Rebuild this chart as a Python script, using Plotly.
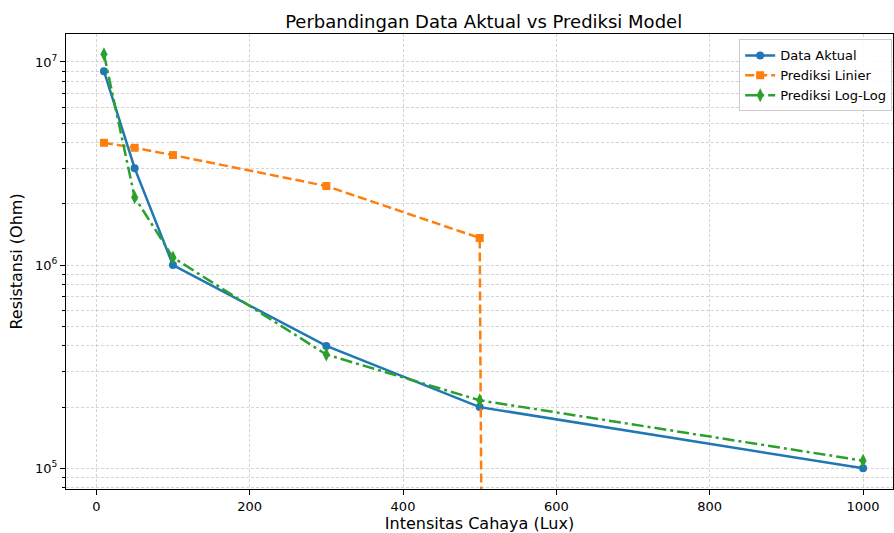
import plotly.graph_objects as go

# Data
intensitas = [10, 50, 100, 300, 500, 1000]
data_aktual = [9.0e6, 3.0e6, 1.0e6, 4.0e5, 2.0e5, 1.0e5]
# last linear prediction is non-positive (clipped on the log axis, as matplotlib does)
prediksi_linier = [4.0e6, 3.78e6, 3.48e6, 2.45e6, 1.36e6, 1e-300]
prediksi_loglog = [1.09e7, 2.16e6, 1.09e6, 3.63e5, 2.16e5, 1.09e5]

x_ticks = [0, 200, 400, 600, 800, 1000]
y_ticks = [1e5, 1e6, 1e7]
y_ticklabels = ["10<sup>5</sup>", "10<sup>6</sup>", "10<sup>7</sup>"]
y_minor = [m * 10 ** e for e in (4, 5, 6, 7) for m in range(2, 10)]

FONT = "DejaVu Sans"
grid_col = "rgba(195,195,195,0.7)"

fig = go.Figure()
fig.add_trace(go.Scatter(
    x=intensitas, y=data_aktual, mode="lines+markers", name="Data Aktual",
    line=dict(color="#1f77b4", width=2.5),
    marker=dict(symbol="circle", size=8, color="#1f77b4"),
))
fig.add_trace(go.Scatter(
    x=intensitas, y=prediksi_linier, mode="lines+markers", name="Prediksi Linier",
    line=dict(color="#ff7f0e", width=2.5, dash="9px,4px"),
    marker=dict(symbol="square", size=8, color="#ff7f0e"),
))
fig.add_trace(go.Scatter(
    x=intensitas, y=prediksi_loglog, mode="lines+markers", name="Prediksi Log-Log",
    line=dict(color="#2ca02c", width=2.5, dash="12px,4px,3px,4px"),
    marker=dict(symbol="diamond-tall", size=10, color="#2ca02c"),
))

axis_common = dict(
    showline=True, linecolor="black", linewidth=1, mirror=True,
    ticks="outside", ticklen=5, tickwidth=1, tickcolor="black",
    showgrid=True, gridcolor=grid_col, gridwidth=0.5, griddash="3px,2px",
    zeroline=False, tickfont=dict(family=FONT, size=13, color="black"),
)

fig.update_xaxes(
    range=[-39.5, 1039], tickvals=x_ticks,
    title=dict(text="Intensitas Cahaya (Lux)", font=dict(family=FONT, size=16, color="black"), standoff=8),
    **axis_common,
)
fig.update_yaxes(
    type="log", range=[4.898, 7.1375], tickvals=y_ticks, ticktext=y_ticklabels,
    title=dict(text="Resistansi (Ohm)", font=dict(family=FONT, size=16, color="black"), standoff=8),
    minor=dict(tickmode="array", tickvals=y_minor, ticks="outside", ticklen=3, tickcolor="black",
               showgrid=True, gridcolor=grid_col, gridwidth=0.5, griddash="3px,2px"),
    **axis_common,
)

fig.update_layout(
    width=894, height=533,
    margin=dict(l=66, r=0, t=34, b=42),
    paper_bgcolor="white", plot_bgcolor="white",
    title=dict(text="Perbandingan Data Aktual vs Prediksi Model", xref="container", x=0.541,
               xanchor="center", y=0.96, yanchor="middle",
               font=dict(family=FONT, size=18, color="black")),
    font=dict(family=FONT, color="black"),
    legend=dict(x=0.999, xanchor="right", y=0.988, yanchor="top",
                bgcolor="rgba(255,255,255,0.85)", bordercolor="#cccccc", borderwidth=1,
                font=dict(family=FONT, size=13, color="black"),
                tracegroupgap=0, itemwidth=30),
    showlegend=True,
)

fig.write_html("out.html", config={"displayModeBar": False},
               post_script="document.body.style.margin='0';")
